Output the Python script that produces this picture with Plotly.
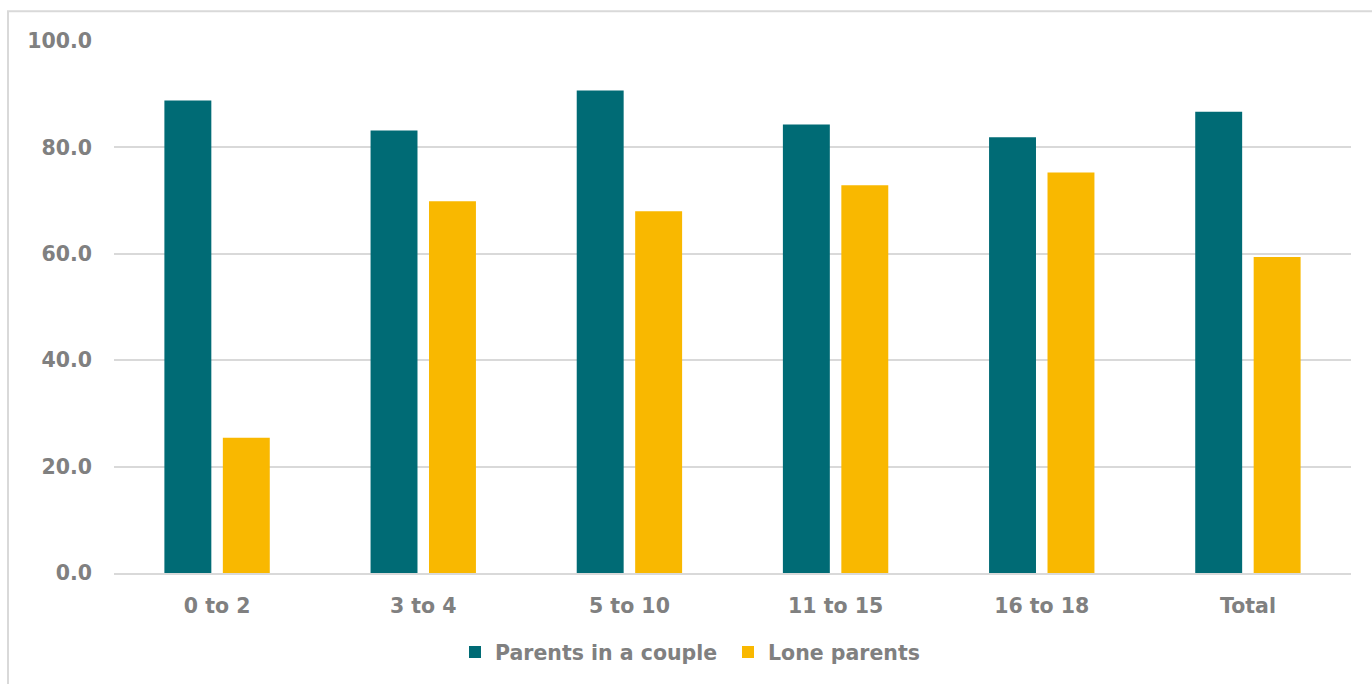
import plotly.graph_objects as go

categories = ["0 to 2", "3 to 4", "5 to 10", "11 to 15", "16 to 18", "Total"]
couple = [88.8, 83.2, 90.7, 84.3, 81.9, 86.7]
lone = [25.4, 69.9, 68.0, 72.9, 75.3, 59.4]
tick_vals = [0, 20, 40, 60, 80, 100]
tick_text = ["0.0", "20.0", "40.0", "60.0", "80.0", "100.0"]

GRAY = "#808080"
FONT = "DejaVu Sans"
FS = 20.5

fig = go.Figure()
fig.add_trace(go.Bar(x=categories, y=couple, name="Parents in a couple",
                     marker=dict(color="#006B75", line=dict(width=0))))
fig.add_trace(go.Bar(x=categories, y=lone, name="Lone parents",
                     marker=dict(color="#F9B800", line=dict(width=0))))

W, H = 1372, 684
L, R, T, B = 114, 21, 41, 106
pw, ph = W - L - R, H - T - B
base = H - B

fig.update_layout(
    width=W, height=H,
    margin=dict(l=L, r=R, t=T, b=B),
    paper_bgcolor="white", plot_bgcolor="white",
    barmode="group", bargap=0.433, bargroupgap=0.197,
    font=dict(family=FONT, color=GRAY, size=FS),
    showlegend=True,
    legend=dict(orientation="h", x=(469 - 14 - L) / pw, xanchor="left",
                y=-(658 - base) / ph, yanchor="middle",
                font=dict(family=FONT, size=FS, color=GRAY, weight="bold"),
                itemsizing="constant", traceorder="normal",
                entrywidth=228, entrywidthmode="pixels"),
    xaxis=dict(showgrid=False, showline=True, linecolor="#d9d9d9", linewidth=2,
               tickfont=dict(family=FONT, size=FS, color=GRAY, weight="bold"),
               ticks="", ticklabelstandoff=13),
    yaxis=dict(range=[0, 100], tickvals=tick_vals, ticktext=tick_text,
               showgrid=True, gridcolor="#d9d9d9", gridwidth=1.5,
               zeroline=False, showline=False, ticks="",
               tickfont=dict(family=FONT, size=FS, color=GRAY, weight="bold"),
               ticklabelstandoff=21),
    shapes=[dict(type="rect", xref="paper", yref="paper",
                 x0=(8 - L) / pw, x1=(W + 10 - L) / pw,
                 y0=-(H + 10 - base) / ph, y1=(base - 11) / ph,
                 line=dict(color="#d9d9d9", width=2), fillcolor="rgba(0,0,0,0)",
                 layer="below")],
)

fig.write_html("out.html")
